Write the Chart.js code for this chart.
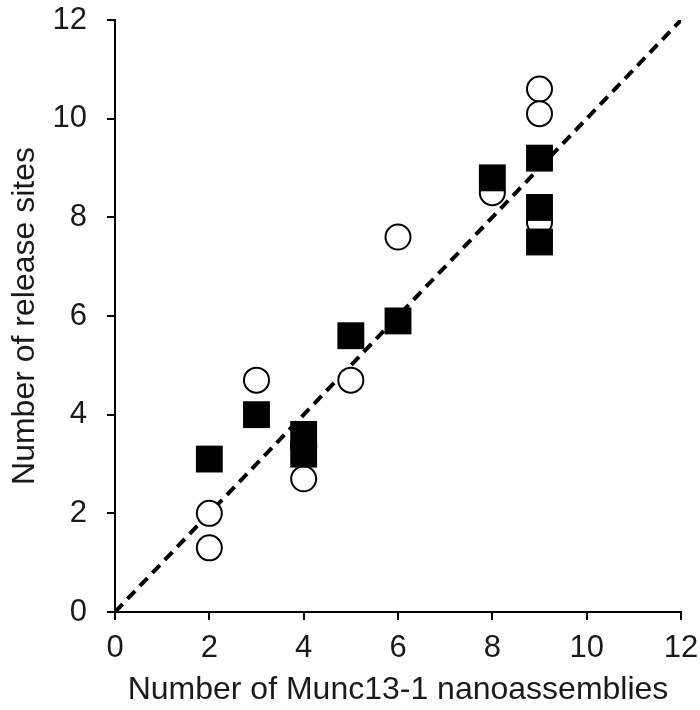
<!DOCTYPE html>
<html>
<head>
<meta charset="utf-8">
<style>
	body { margin: 0; background: #fff; }
	#wrap { width: 700px; height: 710px; }
</style>
</head>
<body>
<div id="wrap"><canvas id="graf"></canvas></div>
<script src="https://cdn.jsdelivr.net/npm/chart.js"></script>
<script>
	// open circles
	let circleX = [2, 2, 3, 4, 4, 5, 6, 8, 9, 9, 9];
	let circleY = [2.0, 1.3, 4.7, 2.7, 3.35, 4.7, 7.6, 8.5, 10.6, 10.1, 7.9];
	// filled squares
	let squareX = [2, 3, 4, 4, 5, 6, 8, 9, 9, 9];
	let squareY = [3.1, 4.0, 3.6, 3.2, 5.6, 5.9, 8.8, 9.2, 8.2, 7.5];
	// identity line
	let lineX = [0, 12];
	let lineY = [0, 12];
	let ticks = [0, 2, 4, 6, 8, 10, 12];

	const pts = (xs, ys) => xs.map((x, i) => ({ x: x, y: ys[i] }));
	const tickFont = { family: "'Liberation Sans', Arial, sans-serif", size: 31 };
	const titleFont = { family: "'Liberation Sans', Arial, sans-serif", size: 32 };

	var graf = new Chart(document.getElementById("graf"), {
		type: "scatter",
		data: {
			datasets: [
				{
					data: pts(squareX, squareY),
					pointStyle: "rect",
					pointRadius: 19,
					backgroundColor: "#000",
					borderColor: "#000",
					borderWidth: 0,
					order: 0,
				},
				{
					data: pts(circleX, circleY),
					pointStyle: "circle",
					pointRadius: 12.5,
					backgroundColor: "#fff",
					borderColor: "#000",
					borderWidth: 2,
					order: 1,
				},
				{
					data: pts(lineX, lineY),
					showLine: true,
					pointRadius: 0,
					borderColor: "#000",
					borderWidth: 4,
					borderDash: [11, 7],
					order: 2,
				},
			],
		},
		options: {
			responsive: true,
			maintainAspectRatio: false,
			animation: false,
			layout: { padding: { top: 20, right: 18, left: 0, bottom: 0 } },
			plugins: {
				legend: { display: false },
				tooltip: { enabled: false },
			},
			scales: {
				x: {
					type: "linear",
					min: 0,
					max: 12,
					afterBuildTicks: (s) => { s.ticks = ticks.map((v) => ({ value: v })); },
					afterFit: (s) => {
						s.height = 98;
						s.paddingLeft = 0;
						s.paddingRight = 0;
					},
					grid: {
						drawOnChartArea: false,
						drawTicks: true,
						tickLength: 8,
						color: "#000",
						lineWidth: 2,
					},
					border: { color: "#000", width: 2 },
					ticks: { color: "#1a1a1a", font: tickFont, padding: 10 },
					title: {
						display: true,
						text: "Number of Munc13-1 nanoassemblies",
						color: "#1a1a1a",
						font: titleFont,
						padding: { top: 0, bottom: 1 },
					},
				},
				y: {
					type: "linear",
					min: 0,
					max: 12,
					afterBuildTicks: (s) => { s.ticks = ticks.map((v) => ({ value: v })); },
					afterFit: (s) => {
						s.width = 115;
						s.paddingTop = 0;
						s.paddingBottom = 0;
					},
					grid: {
						drawOnChartArea: false,
						drawTicks: true,
						tickLength: 8,
						color: "#000",
						lineWidth: 2,
					},
					border: { color: "#000", width: 2 },
					ticks: { color: "#1a1a1a", font: tickFont, padding: 20 },
					title: {
						display: true,
						text: "Number of release sites",
						color: "#1a1a1a",
						font: titleFont,
						padding: { top: 6, bottom: 0 },
					},
				},
			},
		},
	});
</script>
</body>
</html>
